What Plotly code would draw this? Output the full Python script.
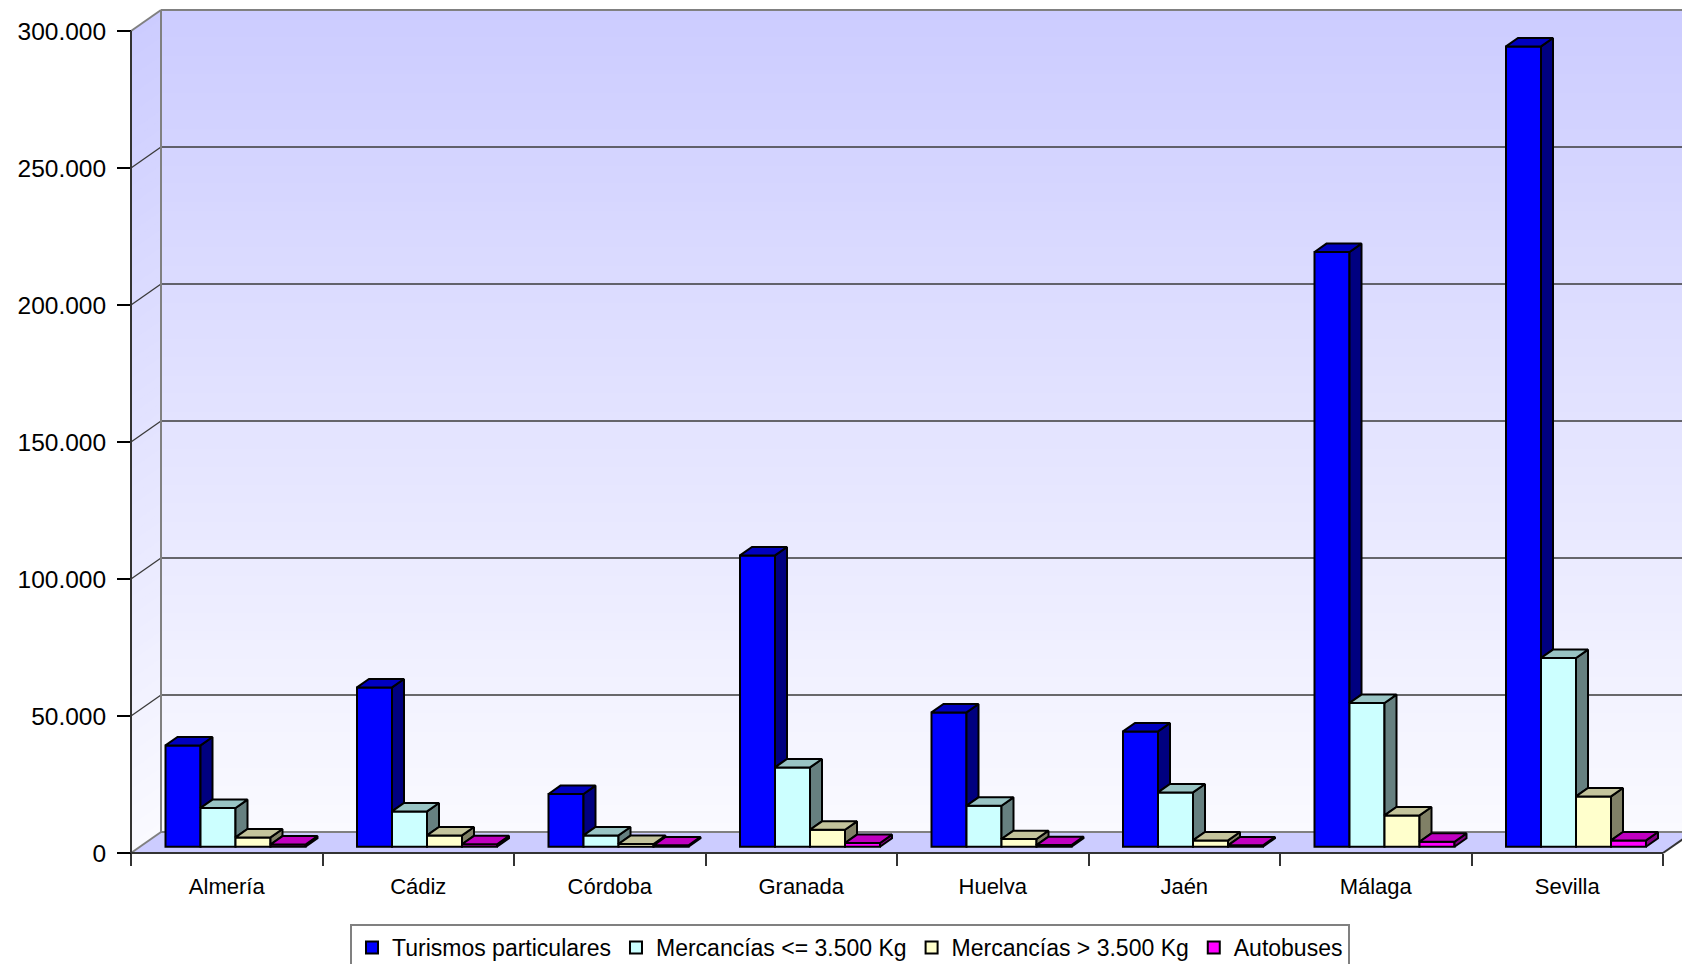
import plotly.graph_objects as go

provincias = ["Almería", "Cádiz", "Córdoba", "Granada", "Huelva", "Jaén", "Málaga", "Sevilla"]
turismos = [36970, 58140, 19230, 106300, 49020, 42080, 217040, 292080]
merc_ligeras = [14120, 12880, 4120, 28940, 14960, 19820, 52440, 68870]
merc_pesadas = [3400, 4120, 1000, 6200, 2800, 2300, 11420, 18360]
autobuses = [800, 900, 500, 1350, 600, 500, 1820, 2300]
y_ticks = [0, 50000, 100000, 150000, 200000, 250000, 300000]

series = [
    ("Turismos particulares", turismos, "#0000ff", "#0000c0", "#000080"),
    ("Mercancías <= 3.500 Kg", merc_ligeras, "#ccffff", "#99c4c4", "#668080"),
    ("Mercancías > 3.500 Kg", merc_pesadas, "#ffffcc", "#c4c49c", "#808066"),
    ("Autobuses", autobuses, "#ff00ff", "#c000c0", "#800080"),
]

# pixel geometry of the pseudo-3D box
CAT_PX = 191.5                 # px per category
UY = 50000 / 137               # value units per px
n = len(provincias)
WALL_DX, WALL_DY = 30 / CAT_PX, 21 * UY
BAR_W = 35 / CAT_PX
BAR_X0 = 34.5 / CAT_PX
BAR_DX, BAR_DY = 12 / CAT_PX, 8.4 * UY
BAR_BASE = 6.3 * UY
X_RIGHT = n + WALL_DX
Y_TOP = y_ticks[-1]

fig = go.Figure()

# side and top faces (drawn over the flat bars)
for k, (name, vals, front, top, side) in enumerate(series):
    tx, ty, sx, sy = [], [], [], []
    for i, v in enumerate(vals):
        x0 = i + BAR_X0 + k * BAR_W
        x1 = x0 + BAR_W
        yt = BAR_BASE + v
        tx += [x0, x1, x1 + BAR_DX, x0 + BAR_DX, x0, None]
        ty += [yt, yt, yt + BAR_DY, yt + BAR_DY, yt, None]
        ys = BAR_BASE if k == len(series) - 1 else BAR_BASE + series[k + 1][1][i]
        if ys < yt:
            sx += [x1, x1, x1 + BAR_DX, x1 + BAR_DX, x1, None]
            sy += [ys, yt, yt + BAR_DY, ys + BAR_DY, ys, None]
    for xs, yv, col in ((sx, sy, side), (tx, ty, top)):
        fig.add_trace(go.Scatter(x=xs, y=yv, mode="lines", fill="toself", fillcolor=col,
                                 line=dict(color="black", width=2), showlegend=False,
                                 hoverinfo="skip"))

for k, (name, vals, front, top, side) in enumerate(series):
    fig.add_trace(go.Bar(
        x=list(range(n)), y=vals, base=[BAR_BASE] * n, name=name,
        offset=BAR_X0 + k * BAR_W, width=BAR_W,
        marker=dict(color=front, line=dict(color="black", width=2)),
    ))

shapes = []
# gradient on back and side walls
bands = 90
for b in range(bands):
    y0 = Y_TOP * b / bands
    y1 = Y_TOP * (b + 1) / bands + (0 if b == bands - 1 else 600)
    t = 1 - (b + 0.5) / bands
    c = round(204 + (250 - 204) * t)
    path = (f"M 0,{y0} L {WALL_DX},{y0 + WALL_DY} L {X_RIGHT},{y0 + WALL_DY} "
            f"L {X_RIGHT},{y1 + WALL_DY} L {WALL_DX},{y1 + WALL_DY} L 0,{y1} Z")
    shapes.append(dict(type="path", path=path, fillcolor=f"rgb({c},{c},255)",
                       line=dict(width=0), layer="below"))
# floor
shapes.append(dict(type="path", layer="below", fillcolor="#ccccff", line=dict(width=0),
                   path=f"M 0,0 L {n},0 L {X_RIGHT},{WALL_DY} L {WALL_DX},{WALL_DY} Z"))
# grid lines on walls
for v in y_ticks[1:-1]:
    for x0, y0, x1, y1 in ((WALL_DX, v + WALL_DY, X_RIGHT + 1, v + WALL_DY),
                           (0, v, WALL_DX, v + WALL_DY)):
        shapes.append(dict(type="line", x0=x0, y0=y0, x1=x1, y1=y1, layer="below",
                           line=dict(color="#3a3a3a", width=1.3)))
grey = dict(color="#808080", width=2)
for x0, y0, x1, y1 in ((WALL_DX, Y_TOP + WALL_DY, X_RIGHT + 1, Y_TOP + WALL_DY),
                       (WALL_DX, WALL_DY, WALL_DX, Y_TOP + WALL_DY),
                       (0, Y_TOP, WALL_DX, Y_TOP + WALL_DY),
                       (WALL_DX, WALL_DY, X_RIGHT, WALL_DY),
                       (0, 0, WALL_DX, WALL_DY)):
    shapes.append(dict(type="line", x0=x0, y0=y0, x1=x1, y1=y1, layer="below", line=grey))
dark = dict(color="#333333", width=2)
for x0, y0, x1, y1 in ((0, 0, 0, Y_TOP), (0, 0, n, 0), (n, 0, X_RIGHT, WALL_DY)):
    shapes.append(dict(type="line", x0=x0, y0=y0, x1=x1, y1=y1, layer="above", line=dark))

# the page body adds an 8px offset, so everything is placed 8px up/left
W, H = 1690, 964
M_L, M_T, M_B = 121, 0, 117
plot_w, plot_h = W - M_L, H - M_T - M_B
fig.update_layout(
    width=W, height=H,
    margin=dict(l=M_L, r=0, t=M_T, b=M_B, autoexpand=False),
    paper_bgcolor="white", plot_bgcolor="white",
    barmode="overlay",
    font=dict(family="Liberation Sans, Arial, sans-serif", size=22, color="black"),
    shapes=shapes,
    showlegend=True,
    legend=dict(orientation="h", xref="container", yref="container",
                x=842 / W, xanchor="center", y=(H - 916) / H, yanchor="top",
                bgcolor="white", bordercolor="#808080", borderwidth=2,
                font=dict(size=23), traceorder="normal"),
    xaxis=dict(range=[-2 / CAT_PX, (plot_w - 2) / CAT_PX], showgrid=False, zeroline=False,
               showline=False, anchor="free", position=2 / plot_h, automargin=False,
               tickvals=[i + 0.5 for i in range(n)], ticktext=provincias, ticks="",
               ticklabelstandoff=18,
               minor=dict(tickvals=list(range(n + 1)), ticks="outside", ticklen=12,
                          tickcolor="#333333", tickwidth=1.5, showgrid=False)),
    yaxis=dict(range=[-2 * UY, (plot_h - 2) * UY], showgrid=False, zeroline=False,
               showline=False, anchor="free", position=2 / plot_w, automargin=False,
               tickvals=y_ticks, ticktext=[f"{v:,}".replace(",", ".") for v in y_ticks],
               ticks="outside", ticklen=14, tickcolor="black", tickwidth=1.5,
               ticklabelstandoff=6, tickfont=dict(size=24.5)),
)

fig.write_html("out.html")
